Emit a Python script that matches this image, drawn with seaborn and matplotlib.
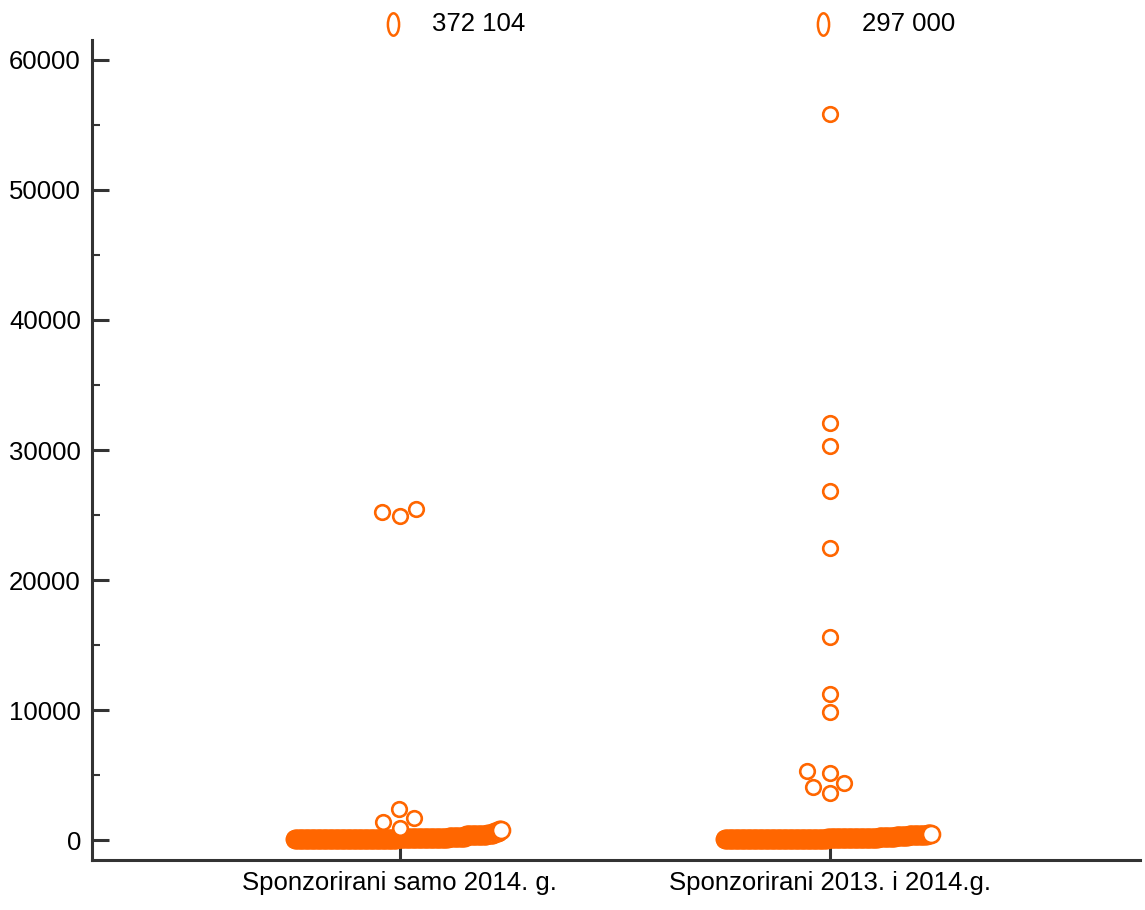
import numpy as np
import matplotlib
matplotlib.use("Agg")
import matplotlib.pyplot as plt
from matplotlib.path import Path
from matplotlib.ticker import MultipleLocator
import seaborn as sns
import pandas as pd

# categories
groups = ["Sponzorirani samo 2014. g.", "Sponzorirani 2013. i 2014.g."]

# small amounts, given as value / count tables (the dense strip near 0)
a_low_vals = [100, 150, 200, 350, 400, 500, 600, 770]
a_low_counts = [120, 60, 20, 15, 10, 8, 6, 3]
b_low_vals = [100, 150, 200, 300, 350, 400, 450]
b_low_counts = [120, 60, 20, 15, 12, 10, 5]

# larger amounts
a_high = [900, 1400, 1700, 2400, 24900, 25200, 25450]
b_high = [3600, 4050, 4400, 5150, 5300, 9850, 11250, 15600, 22450,
          26850, 30300, 32050, 55850]

# off-scale maxima (shown at the top edge with their value)
off_scale = [372104, 297000]

orange = "#FF6600"
dark = "#333333"

sns.set_theme(style="ticks")
plt.rcParams["font.family"] = ["Liberation Sans", "DejaVu Sans"]

fig = plt.figure(figsize=(11.45, 9.10), dpi=100)
ax = fig.add_axes([92 / 1145, 50 / 910, 1048 / 1145, 820 / 910])

# dense strip: points ordered by value, laid side by side
for g, (vals, counts) in enumerate([(a_low_vals, a_low_counts),
                                    (b_low_vals, b_low_counts)]):
    y = np.repeat(vals, counts)
    x = g + np.linspace(-0.245, 0.235, len(y))
    sns.scatterplot(x=x, y=y, color="white", edgecolor=orange, s=150,
                    linewidth=1.9, ax=ax, legend=False, zorder=2)

# larger values as a swarm
high = pd.DataFrame({
    "g": [0] * len(a_high) + [1] * len(b_high),
    "amount": a_high + b_high,
})
sns.swarmplot(data=high, x="g", y="amount", native_scale=True, orient="x",
              color="white", edgecolor=orange, linewidth=1.9, size=10.5,
              ax=ax, zorder=3)

ax.set_xlim(-0.716, 1.721)
ax.set_ylim(-1538, 61538)

# off-scale maxima drawn above the plotting area
ell = Path(Path.unit_circle().vertices * [0.5, 1.0], Path.unit_circle().codes)
top_y = ax.get_ylim()[1] + 1200
for g, v in enumerate(off_scale):
    ax.scatter([g - 0.015], [top_y], marker=ell, s=260, facecolor="white",
               edgecolor=orange, linewidth=1.8, clip_on=False, zorder=4)
    ax.text(g + 0.075, top_y, f"{v:,}".replace(",", " "), fontsize=18.5,
            va="center", ha="left", color="black", clip_on=False)

ax.set_xticks([0, 1])
ax.set_xticklabels(groups)
ax.yaxis.set_major_locator(MultipleLocator(10000))
ax.yaxis.set_minor_locator(MultipleLocator(5000))
ax.tick_params(axis="both", which="major", direction="in", length=12,
               width=2.2, color=dark, labelsize=18.5, labelcolor="black", pad=8)
ax.tick_params(axis="y", which="minor", direction="in", length=6,
               width=1.5, color=dark, left=True)
ax.set_xlabel("")
ax.set_ylabel("")

for side in ["top", "right"]:
    ax.spines[side].set_visible(False)
for side in ["left", "bottom"]:
    ax.spines[side].set_color(dark)
    ax.spines[side].set_linewidth(2.2)

fig.savefig("out.png", dpi=100)
